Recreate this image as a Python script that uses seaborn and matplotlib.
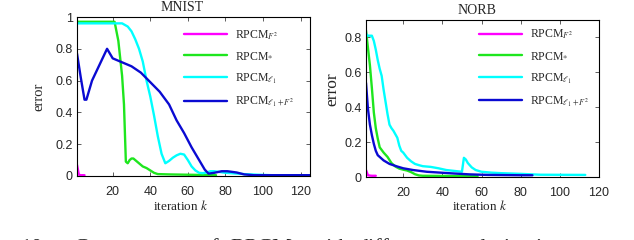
# two convergence panels: MNIST and NORB, error vs iteration

import matplotlib
matplotlib.use('Agg')
import matplotlib.pyplot as plt
from matplotlib.ticker import FuncFormatter
import numpy as np
import pandas as pd
import seaborn as sns

# ---- data ----
# MNIST
mn_f2_x = [1, 2, 3, 4, 5]
mn_f2_y = [0.07, 0.008, 0.005, 0.005, 0.005]
mn_nuc_x = [1, 21, 23, 25, 26, 27, 28, 29, 30, 31, 32, 34, 36, 38, 40, 42, 44, 50, 60, 70, 75]
mn_nuc_y = [0.97, 0.97, 0.85, 0.63, 0.45, 0.09, 0.08, 0.10, 0.11, 0.11, 0.10, 0.08, 0.06, 0.05,
            0.035, 0.02, 0.012, 0.01, 0.008, 0.006, 0.005]
mn_l1_x = [1, 25, 28, 30, 32, 34, 36, 38, 40, 42, 44, 46, 48, 50, 52, 54, 56, 58, 60, 62, 64,
           66, 68, 70, 72, 74, 77, 80, 85, 90, 97, 105, 125]
mn_l1_y = [0.96, 0.96, 0.94, 0.91, 0.86, 0.80, 0.72, 0.60, 0.50, 0.38, 0.25, 0.14, 0.08, 0.095,
           0.115, 0.13, 0.14, 0.135, 0.10, 0.06, 0.035, 0.02, 0.018, 0.022, 0.03, 0.03, 0.025,
           0.02, 0.016, 0.012, 0.008, 0.005, 0.005]
mn_mix_x = [1, 3, 5, 6, 9, 13, 17, 18, 20, 22, 26, 30, 35, 40, 45, 50, 54, 58, 62, 66, 69, 71,
            74, 78, 81, 86, 90, 95, 125]
mn_mix_y = [0.77, 0.62, 0.48, 0.48, 0.60, 0.70, 0.80, 0.78, 0.74, 0.73, 0.71, 0.69, 0.65, 0.59,
            0.53, 0.45, 0.35, 0.27, 0.18, 0.10, 0.04, 0.015, 0.02, 0.03, 0.03, 0.022, 0.01,
            0.005, 0.005]

# NORB
nb_f2_x = [1, 2, 3, 4, 5, 6]
nb_f2_y = [0.04, 0.01, 0.008, 0.007, 0.007, 0.007]
nb_nuc_x = [1, 2, 3, 4, 5, 6, 7, 8, 10, 12, 14, 16, 18, 20, 22, 24, 26, 28, 30, 40, 50, 58]
nb_nuc_y = [0.84, 0.74, 0.64, 0.51, 0.37, 0.28, 0.22, 0.17, 0.14, 0.115, 0.08, 0.06, 0.048,
            0.042, 0.037, 0.028, 0.016, 0.009, 0.007, 0.006, 0.005, 0.005]
nb_l1_x = [1, 2, 3, 4, 5, 6, 7, 8, 9, 10, 11, 12, 13, 14, 15, 16, 17, 18, 19, 20, 22, 24, 26,
           28, 30, 34, 38, 42, 46, 50, 51, 52, 53, 55, 57, 60, 65, 70, 80, 90, 113]
nb_l1_y = [0.82, 0.81, 0.81, 0.81, 0.78, 0.73, 0.67, 0.62, 0.58, 0.50, 0.43, 0.36, 0.30, 0.28,
           0.265, 0.245, 0.225, 0.18, 0.15, 0.14, 0.11, 0.09, 0.075, 0.068, 0.062, 0.058, 0.05,
           0.04, 0.035, 0.03, 0.11, 0.10, 0.08, 0.055, 0.04, 0.03, 0.025, 0.022, 0.018, 0.013,
           0.012]
nb_mix_x = [1, 2, 3, 4, 5, 6, 7, 8, 10, 13, 17, 20, 25, 32, 39, 46, 54, 63, 80, 86]
nb_mix_y = [0.54, 0.39, 0.30, 0.24, 0.19, 0.15, 0.125, 0.115, 0.095, 0.075, 0.06, 0.05, 0.04,
            0.03, 0.025, 0.02, 0.015, 0.012, 0.01, 0.01]

labels = [r'RPCM$_{F^2}$', r'RPCM$_{*}$', r'RPCM$_{\ell_1}$', r'RPCM$_{\ell_1+F^2}$']
colors = ['#ff00ff', '#1ee61e', '#00ffff', '#0a0ad2']

caption_words = ['Fig.', '10.', 'Convergence', 'of', 'RPCM', 'with', 'different',
                 'regularization', 'norms']
caption_px = [-34, 20, 73, 200, 230, 311, 357, 442, 577]

# ---- style ----
sns.set_style('ticks')
plt.rcParams['font.family'] = ['Liberation Serif', 'DejaVu Serif']
plt.rcParams['mathtext.fontset'] = 'stix'

fig = plt.figure(figsize=(6.34, 2.4), dpi=100)
ax1 = fig.add_axes([77 / 634, 64 / 240, 233 / 634, 159 / 240])
ax2 = fig.add_axes([366 / 634, 63 / 240, 233 / 634, 157 / 240])


def draw(ax, series, xlim, ylim, yticks, title, title_x, ylab_size, ylab_xy, xlab_xy, leg_xy):
    for (x, y), lab, col in zip(series, labels, colors):
        sns.lineplot(x=x, y=y, ax=ax, color=col, linewidth=1.7, label=lab)
    ax.set_xlim(*xlim)
    ax.set_ylim(*ylim)
    ax.set_xticks([20, 40, 60, 80, 100, 120])
    ax.set_yticks(yticks)
    ax.yaxis.set_major_formatter(FuncFormatter(lambda v, p: '%g' % v))
    ax.tick_params(direction='in', top=True, right=True, length=3, width=0.6,
                   labelsize=9, color='#444444')
    ax.tick_params(axis='x', pad=7.5)
    ax.tick_params(axis='y', pad=3)
    for lbl in ax.get_xticklabels() + ax.get_yticklabels():
        lbl.set_fontfamily('Liberation Sans')
    for sp in ax.spines.values():
        sp.set_linewidth(0.8)
        sp.set_color('black')
    ax.set_title(title, fontsize=10, x=title_x, pad=4)
    ax.set_ylabel('error', fontsize=ylab_size)
    ax.yaxis.set_label_coords(*ylab_xy)
    ax.set_xlabel('iteration $k$', fontsize=9.5)
    ax.xaxis.set_label_coords(*xlab_xy)
    ax.legend(loc='upper left', bbox_to_anchor=leg_xy, frameon=False, fontsize=8.5,
              handlelength=3.6, handletextpad=0.7, labelspacing=0.75,
              borderpad=0, borderaxespad=0)


draw(ax1,
     [(mn_f2_x, mn_f2_y), (mn_nuc_x, mn_nuc_y), (mn_l1_x, mn_l1_y), (mn_mix_x, mn_mix_y)],
     (1, 125), (0, 1), [0, 0.2, 0.4, 0.6, 0.8, 1], 'MNIST', 0.45, 10.5,
     (-0.137, 0.497), (0.446, -0.142), (0.46, 0.93))
draw(ax2,
     [(nb_f2_x, nb_f2_y), (nb_nuc_x, nb_nuc_y), (nb_l1_x, nb_l1_y), (nb_mix_x, nb_mix_y)],
     (1, 120), (0, 0.9), [0, 0.2, 0.4, 0.6, 0.8], 'NORB', 0.475, 12.5,
     (-0.112, 0.56), (0.49, -0.14), (0.487, 0.95))

# partially visible caption at the bottom edge
for w, px in zip(caption_words, caption_px):
    fig.text(px / 634, -0.055, w, fontsize=16, va='baseline', ha='left')

fig.savefig('out.png', dpi=100)
